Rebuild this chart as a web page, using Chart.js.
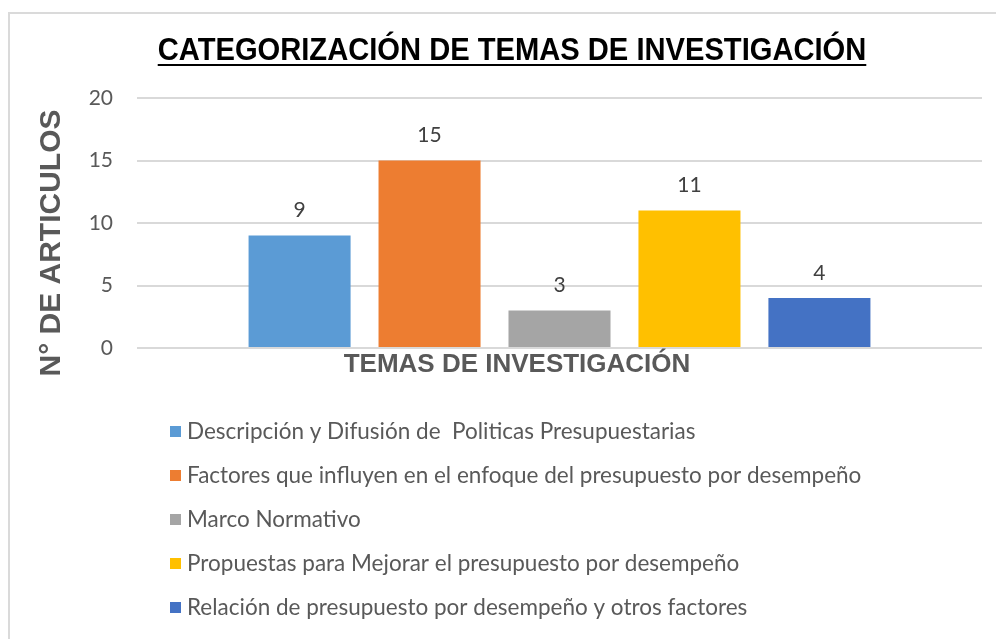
<!DOCTYPE html>
<html><head><meta charset="utf-8">
<script src="https://cdn.jsdelivr.net/npm/chart.js@4.4.1/dist/chart.umd.min.js"></script>
<style>
html,body{margin:0;padding:0;background:#fff;}
#wrap{position:relative;width:996px;height:639px;overflow:hidden;background:#fff;}
#frame{position:absolute;left:8px;top:12px;width:1200px;height:800px;border-top:2px solid #dadada;border-left:2px solid #dadada;}
canvas{position:absolute;left:0;top:0;}
</style></head><body>
<div id="wrap"><div id="frame"></div><canvas id="c" width="996" height="639"></canvas></div>
<script>
const categories = [''];
const seriesNames = [
  'Descripción y Difusión de  Politicas Presupuestarias',
  'Factores que influyen en el enfoque del presupuesto por desempeño',
  'Marco Normativo',
  'Propuestas para Mejorar el presupuesto por desempeño',
  'Relación de presupuesto por desempeño y otros factores'
];
const seriesValues = [9, 15, 3, 11, 4];
const seriesColors = ['#5B9BD5', '#ED7D31', '#A5A5A5', '#FFC000', '#4472C4'];
const yTickValues = [0, 5, 10, 15, 20];
const chartTitle = 'CATEGORIZACIÓN DE TEMAS DE INVESTIGACIÓN';
const yAxisTitle = 'N° DE ARTICULOS';
const xAxisTitle = 'TEMAS DE INVESTIGACIÓN';

const LEGEND_FONT = '22.5px Lato';
const LABEL_FONT = '21px Lato';

const decorPlugin = {
  id: 'decor',
  afterDatasetsDraw(chart) {
    const ctx = chart.ctx;
    ctx.save();
    ctx.font = LABEL_FONT;
    ctx.fillStyle = '#404040';
    ctx.textAlign = 'center';
    ctx.textBaseline = 'middle';
    chart.data.datasets.forEach((ds, i) => {
      const meta = chart.getDatasetMeta(i);
      meta.data.forEach((bar, j) => {
        ctx.fillText(String(ds.data[j]), bar.x, bar.y - 25);
      });
    });
    ctx.restore();
  },
  afterDraw(chart) {
    const ctx = chart.ctx;
    const area = chart.chartArea;
    ctx.save();
    // Title with underline (slightly condensed)
    ctx.font = 'bold 31px "Liberation Sans", Arial, sans-serif';
    ctx.fillStyle = '#000000';
    ctx.textAlign = 'center';
    ctx.textBaseline = 'alphabetic';
    const tx = 512, ty = 60, sx = 0.94;
    const tw = ctx.measureText(chartTitle).width * sx;
    ctx.save();
    ctx.translate(tx, ty);
    ctx.scale(sx, 1);
    ctx.fillText(chartTitle, 0, 0);
    ctx.restore();
    ctx.fillRect(tx - tw / 2, 64, tw, 2);
    // Y axis title
    ctx.font = 'bold 30px "Liberation Sans", Arial, sans-serif';
    ctx.fillStyle = '#595959';
    ctx.textBaseline = 'middle';
    ctx.save();
    ctx.translate(52, 243);
    ctx.rotate(-Math.PI / 2);
    ctx.fillText(yAxisTitle, 0, 0);
    ctx.restore();
    // X axis title
    ctx.font = 'bold 26px "Liberation Sans", Arial, sans-serif';
    ctx.fillText(xAxisTitle, 517, area.bottom + 17);
    // Legend
    ctx.font = LEGEND_FONT;
    ctx.textAlign = 'left';
    chart.data.datasets.forEach((ds, i) => {
      const cy = 431.5 + i * 44;
      ctx.fillStyle = ds.backgroundColor;
      ctx.fillRect(170, cy - 5.5, 11, 11);
      ctx.fillStyle = '#595959';
      ctx.fillText(ds.label, 187, cy);
    });
    ctx.restore();
  }
};

new Chart(document.getElementById('c'), {
  type: 'bar',
  data: {
    labels: categories,
    datasets: seriesNames.map((name, i) => ({
      label: name,
      data: [seriesValues[i]],
      backgroundColor: seriesColors[i],
      borderWidth: 0,
      categoryPercentage: 0.769,
      barPercentage: 0.785
    }))
  },
  options: {
    responsive: false,
    animation: false,
    devicePixelRatio: 1,
    layout: { padding: { left: 0, right: 14, top: 98, bottom: 291 } },
    plugins: {
      legend: { display: false },
      title: { display: false },
      tooltip: { enabled: false }
    },
    scales: {
      x: { display: false },
      y: {
        min: 0,
        max: 20,
        afterBuildTicks(scale) { scale.ticks = yTickValues.map(v => ({ value: v })); },
        afterFit(scale) { scale.width = 137; },
        ticks: { font: { family: 'Lato', size: 21 }, color: '#595959', padding: 24 },
        grid: { color: '#d9d9d9', lineWidth: 2, drawTicks: false },
        border: { display: false }
      }
    }
  },
  plugins: [decorPlugin]
});
</script>
</body></html>
